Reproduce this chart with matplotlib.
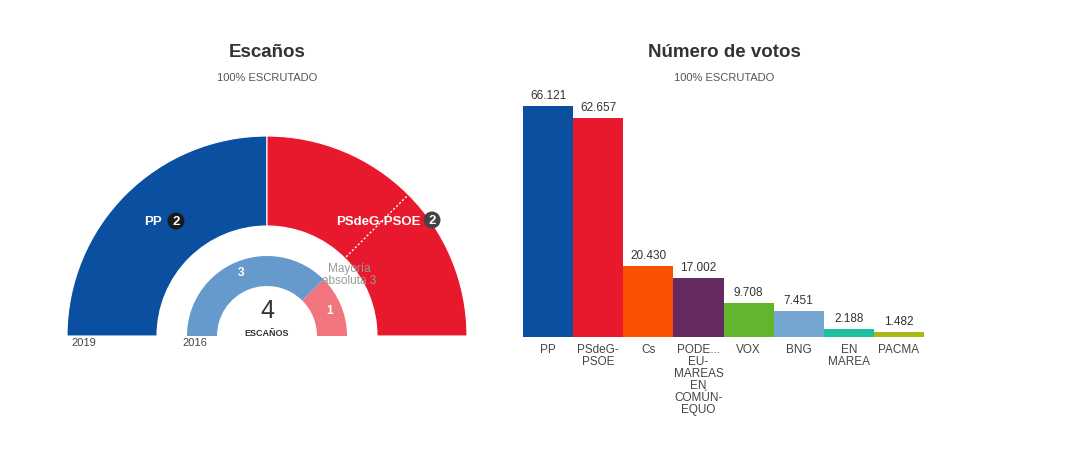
import matplotlib
matplotlib.use("Agg")
import matplotlib.pyplot as plt
from matplotlib.patches import Wedge, Circle
import numpy as np

plt.rcParams['font.family'] = ['Liberation Sans', 'DejaVu Sans']

# escaños
parties_2019 = ["PP", "PSdeG-PSOE"]
seats_2019 = [2, 2]
colors_2019 = ["#0a4fa0", "#e8192c"]
seats_2016 = [3, 1]
colors_2016 = ["#6699cc", "#f0757c"]
total_seats = 4
majority = 3

# votos
vote_labels = ["PP", "PSdeG-\nPSOE", "Cs", "PODE...\nEU-\nMAREAS\nEN\nCOMÚN-\nEQUO",
               "VOX", "BNG", "EN\nMAREA", "PACMA"]
votes = [66121, 62657, 20430, 17002, 9708, 7451, 2188, 1482]
vote_colors = ["#0a4fa0", "#e8192c", "#fa5000", "#662a62", "#63b52d",
               "#74a6d1", "#1ebfa0", "#a8b914"]

fig = plt.figure(figsize=(10.8, 4.56), dpi=100)

# panel izquierdo en pixeles
ax = fig.add_axes([0, 0, 1, 1])
ax.set_xlim(0, 1080)
ax.set_ylim(0, 456)
ax.axis("off")

cx, cy = 267, 456 - 337

# anillo exterior 2019
start = 180
for s, c in zip(seats_2019, colors_2019):
    end = start - 180 * s / total_seats
    ax.add_patch(Wedge((cx, cy), 200, end, start, width=90, facecolor=c, edgecolor="white", linewidth=0.8))
    start = end

# anillo interior 2016
start = 180
for s, c in zip(seats_2016, colors_2016):
    end = start - 180 * s / total_seats
    ax.add_patch(Wedge((cx, cy), 80, end, start, width=30, facecolor=c, edgecolor="none"))
    start = end

# linea de mayoria
ang = np.radians(180 - 180 * majority / total_seats)
ax.plot([cx + 112 * np.cos(ang), cx + 200 * np.cos(ang)],
        [cy + 112 * np.sin(ang), cy + 200 * np.sin(ang)],
        color="white", linestyle=(0, (1.5, 1.5)), linewidth=1)
ax.text(349, 456 - 275, "Mayoría\nabsoluta 3", ha="center", va="center", fontsize=8.5,
        color="#999999", linespacing=0.95)

# etiquetas de partidos
ax.text(153, 456 - 222, "PP", ha="center", va="center", fontsize=9.5, fontweight="bold", color="white")
ax.add_patch(Circle((176, 456 - 222), 8.5, facecolor="#1a1a1a", edgecolor="none"))
ax.text(176, 456 - 222, "2", ha="center", va="center", fontsize=9.5, fontweight="bold", color="white")
ax.text(378, 456 - 222, "PSdeG-PSOE", ha="center", va="center", fontsize=9.5, fontweight="bold", color="white")
ax.add_patch(Circle((432, 456 - 221), 8.5, facecolor="#444444", edgecolor="none"))
ax.text(432, 456 - 221, "2", ha="center", va="center", fontsize=9.5, fontweight="bold", color="white")

ax.text(241, 456 - 273, "3", ha="center", va="center", fontsize=8.5, fontweight="bold", color="white")
ax.text(330, 456 - 311, "1", ha="center", va="center", fontsize=8.5, fontweight="bold", color="white")

ax.text(cx, 456 - 311, str(total_seats), ha="center", va="center", fontsize=18, color="#333333")
ax.text(cx, 456 - 334, "ESCAÑOS", ha="center", va="center", fontsize=6.5, fontweight="bold", color="#333333")
ax.text(84, 456 - 343, "2019", ha="center", va="center", fontsize=8, color="#444444")
ax.text(195, 456 - 343, "2016", ha="center", va="center", fontsize=8, color="#444444")

# titulos
ax.text(267, 456 - 52, "Escaños", ha="center", va="center", fontsize=13.5, fontweight="bold", color="#333333")
ax.text(267, 456 - 78, "100% ESCRUTADO", ha="center", va="center", fontsize=8, color="#555555")
ax.text(724, 456 - 52, "Número de votos", ha="center", va="center", fontsize=13.5, fontweight="bold", color="#333333")
ax.text(724, 456 - 78, "100% ESCRUTADO", ha="center", va="center", fontsize=8, color="#555555")

# barras
bx = fig.add_axes([523 / 1080, (456 - 338) / 456, 401 / 1080, 231 / 456])
x = np.arange(len(votes))
bx.bar(x, votes, width=1.0, color=vote_colors, edgecolor="none")
bx.set_xlim(-0.5, len(votes) - 0.5)
bx.set_ylim(0, max(votes))
for i, v in enumerate(votes):
    bx.annotate(f"{v:,}".replace(",", "."), (i, v), xytext=(0, 3.5), textcoords="offset points",
                ha="center", va="bottom", fontsize=8.5, color="#333333", annotation_clip=False)
bx.set_xticks(x)
bx.set_xticklabels(vote_labels, fontsize=8.5, color="#444444", linespacing=1.0)
bx.tick_params(axis="x", length=0, pad=4)
bx.set_yticks([])
for sp in bx.spines.values():
    sp.set_visible(False)
bx.patch.set_alpha(0)

fig.savefig("out.png", dpi=100)
